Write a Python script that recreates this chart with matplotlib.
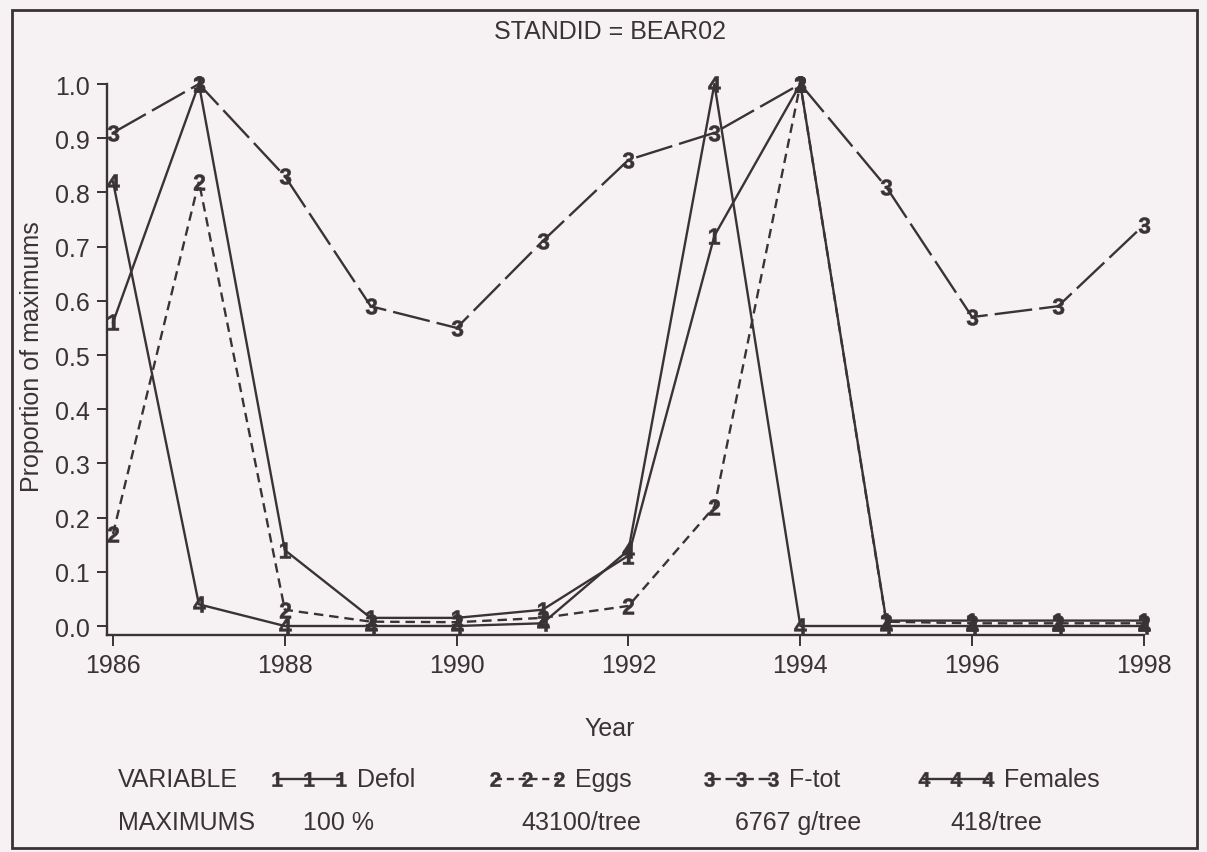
import matplotlib
matplotlib.use("Agg")
import matplotlib.pyplot as plt
from matplotlib.lines import Line2D
from matplotlib.patches import Rectangle
import numpy as np

plt.rcParams['font.family'] = ['Liberation Sans', 'DejaVu Sans']
plt.rcParams['mathtext.fontset'] = 'custom'
plt.rcParams['mathtext.bf'] = 'Liberation Sans:bold'
plt.rcParams['mathtext.rm'] = 'Liberation Sans'

# proportion of each variable's maximum, stand BEAR02
years = np.arange(1986, 1999)
defol = [0.56, 1.00, 0.14, 0.015, 0.015, 0.03, 0.13, 0.72, 1.00, 0.01, 0.01, 0.01, 0.01]
eggs = [0.17, 0.82, 0.03, 0.008, 0.007, 0.015, 0.037, 0.22, 1.00, 0.008, 0.005, 0.005, 0.005]
ftot = [0.91, 1.00, 0.83, 0.59, 0.55, 0.71, 0.86, 0.91, 1.00, 0.81, 0.57, 0.59, 0.74]
females = [0.82, 0.04, 0.00, 0.00, 0.00, 0.005, 0.14, 1.00, 0.00, 0.00, 0.00, 0.00, 0.00]

names = ["Defol", "Eggs", "F-tot", "Females"]
maxima = ["100 %", "43100/tree", "6767 g/tree", "418/tree"]
series = [defol, eggs, ftot, females]
styles = ["-", (0, (4, 2.5)), (0, (16, 3)), "-"]
key_styles = ["-", (0, (3, 2)), (0, (5, 2)), "-"]

ink = "#3a3335"
bg = "#f6f2f4"
W, H = 1207, 853
fs = 18

fig = plt.figure(figsize=(W / 100, H / 100), dpi=100, facecolor=bg)


def fx(px):
    return px / W


def fy(py):
    return 1 - py / H


ax = fig.add_axes([fx(106.7), fy(636), fx(1146) - fx(106.7), fy(83) - fy(636)])
ax.set_facecolor(bg)

for i, vals in enumerate(series):
    ax.plot(years, vals, color=ink, lw=1.7, ls=styles[i],
            marker=r"$\mathbf{%d}$" % (i + 1), markersize=11.5,
            markeredgewidth=0.4, clip_on=False, zorder=3)

ax.set_xlim(1985.927, 1998.023)
ax.set_ylim(-0.0166, 1.0037)
ax.set_xticks(np.arange(1986, 1999, 2))
ax.set_yticks(np.arange(0, 1.01, 0.1))
ax.set_yticklabels(["%.1f" % v for v in np.arange(0, 1.01, 0.1)])
for s in ["top", "right"]:
    ax.spines[s].set_visible(False)
for s in ["left", "bottom"]:
    ax.spines[s].set_color(ink)
    ax.spines[s].set_linewidth(1.7)
ax.spines["left"].set_bounds(-0.0166, 1.0)
ax.spines["bottom"].set_bounds(1985.927, 1998)
ax.tick_params(axis="both", colors=ink, labelsize=fs, width=1.4)
ax.tick_params(axis="x", length=8, pad=5)
ax.tick_params(axis="y", length=7, pad=5)

fig.text(fx(610), fy(32), "STANDID = BEAR02", ha="center", va="center",
         fontsize=fs, color=ink)
fig.text(fx(610), fy(729), "Year", ha="center", va="center",
         fontsize=fs, color=ink)
fig.text(fx(32), fy(357), "Proportion of maximums", ha="center", va="center",
         rotation=90, fontsize=fs, color=ink)

# legend rows drawn by hand
row1, row2 = 780, 823
fig.text(fx(118), fy(row1), "VARIABLE", ha="left", va="center", fontsize=fs, color=ink)
fig.text(fx(118), fy(row2), "MAXIMUMS", ha="left", va="center", fontsize=fs, color=ink)
sym_left = [277, 495, 709, 924]
for i in range(4):
    x0 = sym_left[i]
    xs = [fx(x0), fx(x0 + 32), fx(x0 + 64)]
    fig.add_artist(Line2D(xs, [fy(row1)] * 3, color=ink, lw=1.7, ls=key_styles[i],
                          marker=r"$\mathbf{%d}$" % (i + 1), markersize=10.5,
                          markeredgewidth=0.3))
    fig.text(fx(x0 + 80), fy(row1), names[i], ha="left", va="center",
             fontsize=fs, color=ink)
    fig.text(fx(x0 + 26), fy(row2), maxima[i], ha="left", va="center",
             fontsize=fs, color=ink)

fig.add_artist(Rectangle((fx(12), fy(849)), fx(1197) - fx(12), fy(11) - fy(849),
                         fill=False, edgecolor=ink, lw=2))

fig.savefig("out.png", dpi=100, facecolor=bg)
